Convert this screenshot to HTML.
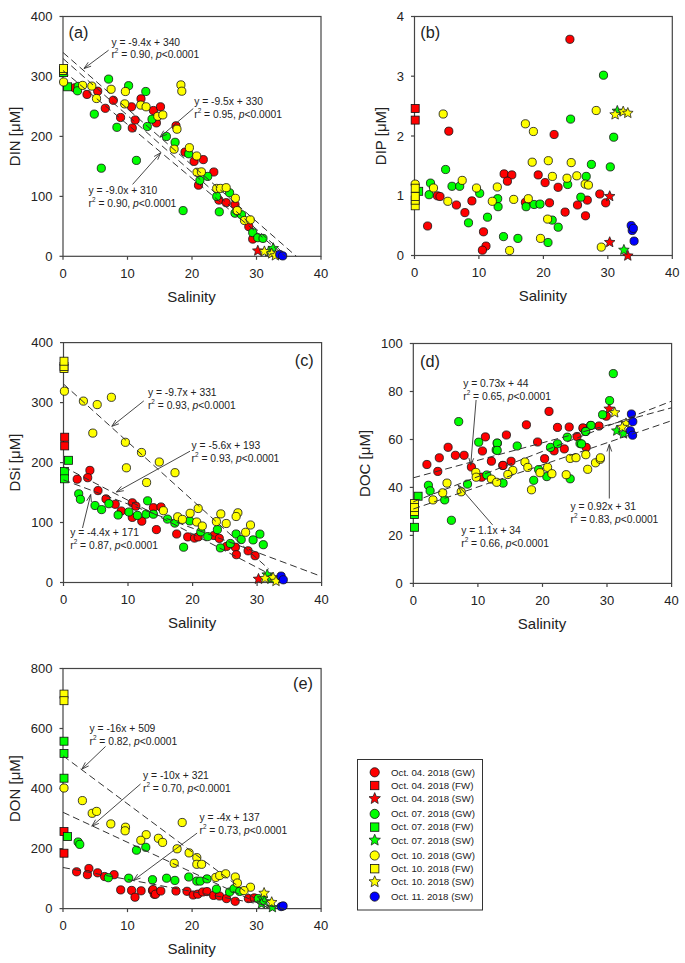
<!DOCTYPE html>
<html><head><meta charset="utf-8"><style>
html,body{margin:0;padding:0;background:#fff;}
svg{display:block;}
text{font-family:"Liberation Sans", sans-serif;fill:#222;}
</style></head><body>
<svg width="685" height="963" viewBox="0 0 685 963">
<rect width="685" height="963" fill="#fff"/>
<rect x="63.0" y="16.5" width="258.0" height="239.8" fill="none" stroke="#454545" stroke-width="1.2"/>
<line x1="59.5" y1="256.3" x2="63.0" y2="256.3" stroke="#454545" stroke-width="1.2"/>
<text x="52.5" y="260.9" font-size="13" text-anchor="end" >0</text>
<line x1="59.5" y1="196.4" x2="63.0" y2="196.4" stroke="#454545" stroke-width="1.2"/>
<text x="52.5" y="201.0" font-size="13" text-anchor="end" >100</text>
<line x1="59.5" y1="136.4" x2="63.0" y2="136.4" stroke="#454545" stroke-width="1.2"/>
<text x="52.5" y="141.0" font-size="13" text-anchor="end" >200</text>
<line x1="59.5" y1="76.5" x2="63.0" y2="76.5" stroke="#454545" stroke-width="1.2"/>
<text x="52.5" y="81.1" font-size="13" text-anchor="end" >300</text>
<line x1="59.5" y1="16.5" x2="63.0" y2="16.5" stroke="#454545" stroke-width="1.2"/>
<text x="52.5" y="21.1" font-size="13" text-anchor="end" >400</text>
<line x1="63.0" y1="256.3" x2="63.0" y2="259.8" stroke="#454545" stroke-width="1.2"/>
<text x="63.0" y="277.6" font-size="13" text-anchor="middle" >0</text>
<line x1="127.5" y1="256.3" x2="127.5" y2="259.8" stroke="#454545" stroke-width="1.2"/>
<text x="127.5" y="277.6" font-size="13" text-anchor="middle" >10</text>
<line x1="192.0" y1="256.3" x2="192.0" y2="259.8" stroke="#454545" stroke-width="1.2"/>
<text x="192.0" y="277.6" font-size="13" text-anchor="middle" >20</text>
<line x1="256.5" y1="256.3" x2="256.5" y2="259.8" stroke="#454545" stroke-width="1.2"/>
<text x="256.5" y="277.6" font-size="13" text-anchor="middle" >30</text>
<line x1="321.0" y1="256.3" x2="321.0" y2="259.8" stroke="#454545" stroke-width="1.2"/>
<text x="321.0" y="277.6" font-size="13" text-anchor="middle" >40</text>
<text x="191.5" y="301.9" font-size="15" text-anchor="middle" >Salinity</text>
<text x="0" y="0" font-size="15" text-anchor="middle" transform="translate(19.8,136.4) rotate(-90)">DIN [&#956;M]</text>
<rect x="414.5" y="16.5" width="257.8" height="239.0" fill="none" stroke="#454545" stroke-width="1.2"/>
<line x1="411.0" y1="255.5" x2="414.5" y2="255.5" stroke="#454545" stroke-width="1.2"/>
<text x="404.0" y="260.1" font-size="13" text-anchor="end" >0</text>
<line x1="411.0" y1="195.8" x2="414.5" y2="195.8" stroke="#454545" stroke-width="1.2"/>
<text x="404.0" y="200.3" font-size="13" text-anchor="end" >1</text>
<line x1="411.0" y1="136.0" x2="414.5" y2="136.0" stroke="#454545" stroke-width="1.2"/>
<text x="404.0" y="140.6" font-size="13" text-anchor="end" >2</text>
<line x1="411.0" y1="76.2" x2="414.5" y2="76.2" stroke="#454545" stroke-width="1.2"/>
<text x="404.0" y="80.8" font-size="13" text-anchor="end" >3</text>
<line x1="411.0" y1="16.5" x2="414.5" y2="16.5" stroke="#454545" stroke-width="1.2"/>
<text x="404.0" y="21.1" font-size="13" text-anchor="end" >4</text>
<line x1="414.5" y1="255.5" x2="414.5" y2="259.0" stroke="#454545" stroke-width="1.2"/>
<text x="414.5" y="276.8" font-size="13" text-anchor="middle" >0</text>
<line x1="478.9" y1="255.5" x2="478.9" y2="259.0" stroke="#454545" stroke-width="1.2"/>
<text x="478.9" y="276.8" font-size="13" text-anchor="middle" >10</text>
<line x1="543.4" y1="255.5" x2="543.4" y2="259.0" stroke="#454545" stroke-width="1.2"/>
<text x="543.4" y="276.8" font-size="13" text-anchor="middle" >20</text>
<line x1="607.8" y1="255.5" x2="607.8" y2="259.0" stroke="#454545" stroke-width="1.2"/>
<text x="607.8" y="276.8" font-size="13" text-anchor="middle" >30</text>
<line x1="672.3" y1="255.5" x2="672.3" y2="259.0" stroke="#454545" stroke-width="1.2"/>
<text x="672.3" y="276.8" font-size="13" text-anchor="middle" >40</text>
<text x="542.9" y="301.1" font-size="15" text-anchor="middle" >Salinity</text>
<text x="0" y="0" font-size="15" text-anchor="middle" transform="translate(386.0,136.0) rotate(-90)">DIP [&#956;M]</text>
<rect x="63.5" y="342.6" width="258.1" height="239.9" fill="none" stroke="#454545" stroke-width="1.2"/>
<line x1="60.0" y1="582.5" x2="63.5" y2="582.5" stroke="#454545" stroke-width="1.2"/>
<text x="53.0" y="587.1" font-size="13" text-anchor="end" >0</text>
<line x1="60.0" y1="522.5" x2="63.5" y2="522.5" stroke="#454545" stroke-width="1.2"/>
<text x="53.0" y="527.1" font-size="13" text-anchor="end" >100</text>
<line x1="60.0" y1="462.6" x2="63.5" y2="462.6" stroke="#454545" stroke-width="1.2"/>
<text x="53.0" y="467.2" font-size="13" text-anchor="end" >200</text>
<line x1="60.0" y1="402.6" x2="63.5" y2="402.6" stroke="#454545" stroke-width="1.2"/>
<text x="53.0" y="407.2" font-size="13" text-anchor="end" >300</text>
<line x1="60.0" y1="342.6" x2="63.5" y2="342.6" stroke="#454545" stroke-width="1.2"/>
<text x="53.0" y="347.2" font-size="13" text-anchor="end" >400</text>
<line x1="63.5" y1="582.5" x2="63.5" y2="586.0" stroke="#454545" stroke-width="1.2"/>
<text x="63.5" y="603.8" font-size="13" text-anchor="middle" >0</text>
<line x1="128.0" y1="582.5" x2="128.0" y2="586.0" stroke="#454545" stroke-width="1.2"/>
<text x="128.0" y="603.8" font-size="13" text-anchor="middle" >10</text>
<line x1="192.6" y1="582.5" x2="192.6" y2="586.0" stroke="#454545" stroke-width="1.2"/>
<text x="192.6" y="603.8" font-size="13" text-anchor="middle" >20</text>
<line x1="257.1" y1="582.5" x2="257.1" y2="586.0" stroke="#454545" stroke-width="1.2"/>
<text x="257.1" y="603.8" font-size="13" text-anchor="middle" >30</text>
<line x1="321.6" y1="582.5" x2="321.6" y2="586.0" stroke="#454545" stroke-width="1.2"/>
<text x="321.6" y="603.8" font-size="13" text-anchor="middle" >40</text>
<text x="192.1" y="628.1" font-size="15" text-anchor="middle" >Salinity</text>
<text x="0" y="0" font-size="15" text-anchor="middle" transform="translate(19.8,462.6) rotate(-90)">DSi [&#956;M]</text>
<rect x="413.3" y="343.5" width="258.3" height="239.9" fill="none" stroke="#454545" stroke-width="1.2"/>
<line x1="409.8" y1="583.4" x2="413.3" y2="583.4" stroke="#454545" stroke-width="1.2"/>
<text x="402.8" y="588.0" font-size="13" text-anchor="end" >0</text>
<line x1="409.8" y1="535.4" x2="413.3" y2="535.4" stroke="#454545" stroke-width="1.2"/>
<text x="402.8" y="540.0" font-size="13" text-anchor="end" >20</text>
<line x1="409.8" y1="487.4" x2="413.3" y2="487.4" stroke="#454545" stroke-width="1.2"/>
<text x="402.8" y="492.0" font-size="13" text-anchor="end" >40</text>
<line x1="409.8" y1="439.5" x2="413.3" y2="439.5" stroke="#454545" stroke-width="1.2"/>
<text x="402.8" y="444.1" font-size="13" text-anchor="end" >60</text>
<line x1="409.8" y1="391.5" x2="413.3" y2="391.5" stroke="#454545" stroke-width="1.2"/>
<text x="402.8" y="396.1" font-size="13" text-anchor="end" >80</text>
<line x1="409.8" y1="343.5" x2="413.3" y2="343.5" stroke="#454545" stroke-width="1.2"/>
<text x="402.8" y="348.1" font-size="13" text-anchor="end" >100</text>
<line x1="413.3" y1="583.4" x2="413.3" y2="586.9" stroke="#454545" stroke-width="1.2"/>
<text x="413.3" y="604.7" font-size="13" text-anchor="middle" >0</text>
<line x1="477.9" y1="583.4" x2="477.9" y2="586.9" stroke="#454545" stroke-width="1.2"/>
<text x="477.9" y="604.7" font-size="13" text-anchor="middle" >10</text>
<line x1="542.5" y1="583.4" x2="542.5" y2="586.9" stroke="#454545" stroke-width="1.2"/>
<text x="542.5" y="604.7" font-size="13" text-anchor="middle" >20</text>
<line x1="607.0" y1="583.4" x2="607.0" y2="586.9" stroke="#454545" stroke-width="1.2"/>
<text x="607.0" y="604.7" font-size="13" text-anchor="middle" >30</text>
<line x1="671.6" y1="583.4" x2="671.6" y2="586.9" stroke="#454545" stroke-width="1.2"/>
<text x="671.6" y="604.7" font-size="13" text-anchor="middle" >40</text>
<text x="542.0" y="629.0" font-size="15" text-anchor="middle" >Salinity</text>
<text x="0" y="0" font-size="15" text-anchor="middle" transform="translate(370.3,463.4) rotate(-90)">DOC [&#956;M]</text>
<rect x="63.0" y="668.5" width="258.1" height="240.1" fill="none" stroke="#454545" stroke-width="1.2"/>
<line x1="59.5" y1="908.6" x2="63.0" y2="908.6" stroke="#454545" stroke-width="1.2"/>
<text x="52.5" y="913.2" font-size="13" text-anchor="end" >0</text>
<line x1="59.5" y1="848.6" x2="63.0" y2="848.6" stroke="#454545" stroke-width="1.2"/>
<text x="52.5" y="853.2" font-size="13" text-anchor="end" >200</text>
<line x1="59.5" y1="788.5" x2="63.0" y2="788.5" stroke="#454545" stroke-width="1.2"/>
<text x="52.5" y="793.1" font-size="13" text-anchor="end" >400</text>
<line x1="59.5" y1="728.5" x2="63.0" y2="728.5" stroke="#454545" stroke-width="1.2"/>
<text x="52.5" y="733.1" font-size="13" text-anchor="end" >600</text>
<line x1="59.5" y1="668.5" x2="63.0" y2="668.5" stroke="#454545" stroke-width="1.2"/>
<text x="52.5" y="673.1" font-size="13" text-anchor="end" >800</text>
<line x1="63.0" y1="908.6" x2="63.0" y2="912.1" stroke="#454545" stroke-width="1.2"/>
<text x="63.0" y="929.9" font-size="13" text-anchor="middle" >0</text>
<line x1="127.5" y1="908.6" x2="127.5" y2="912.1" stroke="#454545" stroke-width="1.2"/>
<text x="127.5" y="929.9" font-size="13" text-anchor="middle" >10</text>
<line x1="192.1" y1="908.6" x2="192.1" y2="912.1" stroke="#454545" stroke-width="1.2"/>
<text x="192.1" y="929.9" font-size="13" text-anchor="middle" >20</text>
<line x1="256.6" y1="908.6" x2="256.6" y2="912.1" stroke="#454545" stroke-width="1.2"/>
<text x="256.6" y="929.9" font-size="13" text-anchor="middle" >30</text>
<line x1="321.1" y1="908.6" x2="321.1" y2="912.1" stroke="#454545" stroke-width="1.2"/>
<text x="321.1" y="929.9" font-size="13" text-anchor="middle" >40</text>
<text x="191.6" y="954.2" font-size="15" text-anchor="middle" >Salinity</text>
<text x="0" y="0" font-size="15" text-anchor="middle" transform="translate(19.8,788.5) rotate(-90)">DON [&#956;M]</text>
<circle cx="74.6" cy="87.8" r="4.1" fill="#ff0000" stroke="#111" stroke-width="0.8"/>
<circle cx="87.0" cy="94.4" r="4.1" fill="#ff0000" stroke="#111" stroke-width="0.8"/>
<circle cx="97.7" cy="91.2" r="4.1" fill="#ff0000" stroke="#111" stroke-width="0.8"/>
<circle cx="105.3" cy="108.3" r="4.1" fill="#ff0000" stroke="#111" stroke-width="0.8"/>
<circle cx="113.3" cy="100.3" r="4.1" fill="#ff0000" stroke="#111" stroke-width="0.8"/>
<circle cx="131.5" cy="106.8" r="4.1" fill="#ff0000" stroke="#111" stroke-width="0.8"/>
<circle cx="120.6" cy="117.5" r="4.1" fill="#ff0000" stroke="#111" stroke-width="0.8"/>
<circle cx="135.2" cy="120.0" r="4.1" fill="#ff0000" stroke="#111" stroke-width="0.8"/>
<circle cx="132.3" cy="128.0" r="4.1" fill="#ff0000" stroke="#111" stroke-width="0.8"/>
<circle cx="141.0" cy="98.8" r="4.1" fill="#ff0000" stroke="#111" stroke-width="0.8"/>
<circle cx="153.4" cy="110.5" r="4.1" fill="#ff0000" stroke="#111" stroke-width="0.8"/>
<circle cx="160.5" cy="106.8" r="4.1" fill="#ff0000" stroke="#111" stroke-width="0.8"/>
<circle cx="156.4" cy="122.9" r="4.1" fill="#ff0000" stroke="#111" stroke-width="0.8"/>
<circle cx="176.0" cy="125.8" r="4.1" fill="#ff0000" stroke="#111" stroke-width="0.8"/>
<circle cx="185.0" cy="152.1" r="4.1" fill="#ff0000" stroke="#111" stroke-width="0.8"/>
<circle cx="203.3" cy="159.6" r="4.1" fill="#ff0000" stroke="#111" stroke-width="0.8"/>
<circle cx="194.1" cy="161.4" r="4.1" fill="#ff0000" stroke="#111" stroke-width="0.8"/>
<circle cx="213.8" cy="172.0" r="4.1" fill="#ff0000" stroke="#111" stroke-width="0.8"/>
<circle cx="198.5" cy="185.2" r="4.1" fill="#ff0000" stroke="#111" stroke-width="0.8"/>
<circle cx="218.9" cy="200.1" r="4.1" fill="#ff0000" stroke="#111" stroke-width="0.8"/>
<circle cx="226.2" cy="202.7" r="4.1" fill="#ff0000" stroke="#111" stroke-width="0.8"/>
<circle cx="235.0" cy="204.5" r="4.1" fill="#ff0000" stroke="#111" stroke-width="0.8"/>
<circle cx="248.8" cy="226.6" r="4.1" fill="#ff0000" stroke="#111" stroke-width="0.8"/>
<circle cx="252.7" cy="239.1" r="4.1" fill="#ff0000" stroke="#111" stroke-width="0.8"/>
<circle cx="448.8" cy="131.2" r="4.1" fill="#ff0000" stroke="#111" stroke-width="0.8"/>
<circle cx="437.4" cy="195.8" r="4.1" fill="#ff0000" stroke="#111" stroke-width="0.8"/>
<circle cx="440.0" cy="196.5" r="4.1" fill="#ff0000" stroke="#111" stroke-width="0.8"/>
<circle cx="456.4" cy="205.0" r="4.1" fill="#ff0000" stroke="#111" stroke-width="0.8"/>
<circle cx="464.9" cy="212.6" r="4.1" fill="#ff0000" stroke="#111" stroke-width="0.8"/>
<circle cx="427.6" cy="226.0" r="4.1" fill="#ff0000" stroke="#111" stroke-width="0.8"/>
<circle cx="471.9" cy="200.9" r="4.1" fill="#ff0000" stroke="#111" stroke-width="0.8"/>
<circle cx="483.5" cy="231.8" r="4.1" fill="#ff0000" stroke="#111" stroke-width="0.8"/>
<circle cx="486.0" cy="246.1" r="4.1" fill="#ff0000" stroke="#111" stroke-width="0.8"/>
<circle cx="482.4" cy="250.2" r="4.1" fill="#ff0000" stroke="#111" stroke-width="0.8"/>
<circle cx="504.1" cy="173.9" r="4.1" fill="#ff0000" stroke="#111" stroke-width="0.8"/>
<circle cx="511.8" cy="174.9" r="4.1" fill="#ff0000" stroke="#111" stroke-width="0.8"/>
<circle cx="507.4" cy="181.2" r="4.1" fill="#ff0000" stroke="#111" stroke-width="0.8"/>
<circle cx="538.2" cy="174.9" r="4.1" fill="#ff0000" stroke="#111" stroke-width="0.8"/>
<circle cx="545.1" cy="182.6" r="4.1" fill="#ff0000" stroke="#111" stroke-width="0.8"/>
<circle cx="558.1" cy="187.3" r="4.1" fill="#ff0000" stroke="#111" stroke-width="0.8"/>
<circle cx="525.4" cy="202.3" r="4.1" fill="#ff0000" stroke="#111" stroke-width="0.8"/>
<circle cx="549.5" cy="202.8" r="4.1" fill="#ff0000" stroke="#111" stroke-width="0.8"/>
<circle cx="587.3" cy="200.1" r="4.1" fill="#ff0000" stroke="#111" stroke-width="0.8"/>
<circle cx="577.5" cy="205.0" r="4.1" fill="#ff0000" stroke="#111" stroke-width="0.8"/>
<circle cx="565.1" cy="212.1" r="4.1" fill="#ff0000" stroke="#111" stroke-width="0.8"/>
<circle cx="585.5" cy="215.8" r="4.1" fill="#ff0000" stroke="#111" stroke-width="0.8"/>
<circle cx="554.1" cy="134.5" r="4.1" fill="#ff0000" stroke="#111" stroke-width="0.8"/>
<circle cx="599.8" cy="194.0" r="4.1" fill="#ff0000" stroke="#111" stroke-width="0.8"/>
<circle cx="605.7" cy="202.8" r="4.1" fill="#ff0000" stroke="#111" stroke-width="0.8"/>
<circle cx="569.9" cy="39.3" r="4.1" fill="#ff0000" stroke="#111" stroke-width="0.8"/>
<circle cx="89.9" cy="470.4" r="4.1" fill="#ff0000" stroke="#111" stroke-width="0.8"/>
<circle cx="87.7" cy="477.7" r="4.1" fill="#ff0000" stroke="#111" stroke-width="0.8"/>
<circle cx="77.2" cy="479.2" r="4.1" fill="#ff0000" stroke="#111" stroke-width="0.8"/>
<circle cx="98.0" cy="490.6" r="4.1" fill="#ff0000" stroke="#111" stroke-width="0.8"/>
<circle cx="106.0" cy="498.9" r="4.1" fill="#ff0000" stroke="#111" stroke-width="0.8"/>
<circle cx="115.2" cy="504.3" r="4.1" fill="#ff0000" stroke="#111" stroke-width="0.8"/>
<circle cx="121.3" cy="511.0" r="4.1" fill="#ff0000" stroke="#111" stroke-width="0.8"/>
<circle cx="132.3" cy="502.8" r="4.1" fill="#ff0000" stroke="#111" stroke-width="0.8"/>
<circle cx="135.9" cy="506.2" r="4.1" fill="#ff0000" stroke="#111" stroke-width="0.8"/>
<circle cx="132.3" cy="517.4" r="4.1" fill="#ff0000" stroke="#111" stroke-width="0.8"/>
<circle cx="141.8" cy="521.2" r="4.1" fill="#ff0000" stroke="#111" stroke-width="0.8"/>
<circle cx="153.4" cy="507.7" r="4.1" fill="#ff0000" stroke="#111" stroke-width="0.8"/>
<circle cx="161.0" cy="507.0" r="4.1" fill="#ff0000" stroke="#111" stroke-width="0.8"/>
<circle cx="156.4" cy="529.6" r="4.1" fill="#ff0000" stroke="#111" stroke-width="0.8"/>
<circle cx="176.7" cy="534.0" r="4.1" fill="#ff0000" stroke="#111" stroke-width="0.8"/>
<circle cx="187.7" cy="536.9" r="4.1" fill="#ff0000" stroke="#111" stroke-width="0.8"/>
<circle cx="194.5" cy="538.1" r="4.1" fill="#ff0000" stroke="#111" stroke-width="0.8"/>
<circle cx="198.2" cy="536.9" r="4.1" fill="#ff0000" stroke="#111" stroke-width="0.8"/>
<circle cx="213.9" cy="535.5" r="4.1" fill="#ff0000" stroke="#111" stroke-width="0.8"/>
<circle cx="219.3" cy="538.4" r="4.1" fill="#ff0000" stroke="#111" stroke-width="0.8"/>
<circle cx="226.6" cy="546.4" r="4.1" fill="#ff0000" stroke="#111" stroke-width="0.8"/>
<circle cx="235.4" cy="547.2" r="4.1" fill="#ff0000" stroke="#111" stroke-width="0.8"/>
<circle cx="236.4" cy="554.7" r="4.1" fill="#ff0000" stroke="#111" stroke-width="0.8"/>
<circle cx="248.1" cy="550.8" r="4.1" fill="#ff0000" stroke="#111" stroke-width="0.8"/>
<circle cx="255.1" cy="555.7" r="4.1" fill="#ff0000" stroke="#111" stroke-width="0.8"/>
<circle cx="426.9" cy="464.5" r="4.1" fill="#ff0000" stroke="#111" stroke-width="0.8"/>
<circle cx="439.3" cy="457.8" r="4.1" fill="#ff0000" stroke="#111" stroke-width="0.8"/>
<circle cx="448.1" cy="447.3" r="4.1" fill="#ff0000" stroke="#111" stroke-width="0.8"/>
<circle cx="455.4" cy="455.3" r="4.1" fill="#ff0000" stroke="#111" stroke-width="0.8"/>
<circle cx="464.1" cy="455.3" r="4.1" fill="#ff0000" stroke="#111" stroke-width="0.8"/>
<circle cx="437.8" cy="471.4" r="4.1" fill="#ff0000" stroke="#111" stroke-width="0.8"/>
<circle cx="471.4" cy="467.0" r="4.1" fill="#ff0000" stroke="#111" stroke-width="0.8"/>
<circle cx="482.4" cy="451.0" r="4.1" fill="#ff0000" stroke="#111" stroke-width="0.8"/>
<circle cx="485.4" cy="436.9" r="4.1" fill="#ff0000" stroke="#111" stroke-width="0.8"/>
<circle cx="491.4" cy="461.2" r="4.1" fill="#ff0000" stroke="#111" stroke-width="0.8"/>
<circle cx="502.8" cy="465.5" r="4.1" fill="#ff0000" stroke="#111" stroke-width="0.8"/>
<circle cx="481.6" cy="477.2" r="4.1" fill="#ff0000" stroke="#111" stroke-width="0.8"/>
<circle cx="549.0" cy="411.4" r="4.1" fill="#ff0000" stroke="#111" stroke-width="0.8"/>
<circle cx="526.4" cy="424.8" r="4.1" fill="#ff0000" stroke="#111" stroke-width="0.8"/>
<circle cx="557.5" cy="427.4" r="4.1" fill="#ff0000" stroke="#111" stroke-width="0.8"/>
<circle cx="569.2" cy="427.0" r="4.1" fill="#ff0000" stroke="#111" stroke-width="0.8"/>
<circle cx="583.3" cy="428.5" r="4.1" fill="#ff0000" stroke="#111" stroke-width="0.8"/>
<circle cx="506.4" cy="435.0" r="4.1" fill="#ff0000" stroke="#111" stroke-width="0.8"/>
<circle cx="577.0" cy="436.5" r="4.1" fill="#ff0000" stroke="#111" stroke-width="0.8"/>
<circle cx="537.6" cy="442.0" r="4.1" fill="#ff0000" stroke="#111" stroke-width="0.8"/>
<circle cx="554.1" cy="450.8" r="4.1" fill="#ff0000" stroke="#111" stroke-width="0.8"/>
<circle cx="564.3" cy="448.9" r="4.1" fill="#ff0000" stroke="#111" stroke-width="0.8"/>
<circle cx="586.2" cy="447.4" r="4.1" fill="#ff0000" stroke="#111" stroke-width="0.8"/>
<circle cx="511.1" cy="461.3" r="4.1" fill="#ff0000" stroke="#111" stroke-width="0.8"/>
<circle cx="503.0" cy="465.4" r="4.1" fill="#ff0000" stroke="#111" stroke-width="0.8"/>
<circle cx="544.6" cy="458.7" r="4.1" fill="#ff0000" stroke="#111" stroke-width="0.8"/>
<circle cx="606.3" cy="416.2" r="4.1" fill="#ff0000" stroke="#111" stroke-width="0.8"/>
<circle cx="599.0" cy="426.0" r="4.1" fill="#ff0000" stroke="#111" stroke-width="0.8"/>
<circle cx="582.9" cy="427.9" r="4.1" fill="#ff0000" stroke="#111" stroke-width="0.8"/>
<circle cx="76.6" cy="871.8" r="4.1" fill="#ff0000" stroke="#111" stroke-width="0.8"/>
<circle cx="88.9" cy="868.5" r="4.1" fill="#ff0000" stroke="#111" stroke-width="0.8"/>
<circle cx="87.4" cy="874.7" r="4.1" fill="#ff0000" stroke="#111" stroke-width="0.8"/>
<circle cx="97.6" cy="872.8" r="4.1" fill="#ff0000" stroke="#111" stroke-width="0.8"/>
<circle cx="104.6" cy="876.5" r="4.1" fill="#ff0000" stroke="#111" stroke-width="0.8"/>
<circle cx="114.1" cy="874.7" r="4.1" fill="#ff0000" stroke="#111" stroke-width="0.8"/>
<circle cx="120.7" cy="889.9" r="4.1" fill="#ff0000" stroke="#111" stroke-width="0.8"/>
<circle cx="131.6" cy="890.4" r="4.1" fill="#ff0000" stroke="#111" stroke-width="0.8"/>
<circle cx="141.1" cy="890.8" r="4.1" fill="#ff0000" stroke="#111" stroke-width="0.8"/>
<circle cx="135.0" cy="897.2" r="4.1" fill="#ff0000" stroke="#111" stroke-width="0.8"/>
<circle cx="152.5" cy="890.4" r="4.1" fill="#ff0000" stroke="#111" stroke-width="0.8"/>
<circle cx="154.3" cy="894.3" r="4.1" fill="#ff0000" stroke="#111" stroke-width="0.8"/>
<circle cx="153.0" cy="889.6" r="4.1" fill="#ff0000" stroke="#111" stroke-width="0.8"/>
<circle cx="155.5" cy="894.2" r="4.1" fill="#ff0000" stroke="#111" stroke-width="0.8"/>
<circle cx="160.8" cy="891.0" r="4.1" fill="#ff0000" stroke="#111" stroke-width="0.8"/>
<circle cx="176.0" cy="891.0" r="4.1" fill="#ff0000" stroke="#111" stroke-width="0.8"/>
<circle cx="187.0" cy="891.3" r="4.1" fill="#ff0000" stroke="#111" stroke-width="0.8"/>
<circle cx="193.2" cy="895.0" r="4.1" fill="#ff0000" stroke="#111" stroke-width="0.8"/>
<circle cx="197.8" cy="894.2" r="4.1" fill="#ff0000" stroke="#111" stroke-width="0.8"/>
<circle cx="202.7" cy="892.0" r="4.1" fill="#ff0000" stroke="#111" stroke-width="0.8"/>
<circle cx="207.0" cy="891.6" r="4.1" fill="#ff0000" stroke="#111" stroke-width="0.8"/>
<circle cx="213.6" cy="895.4" r="4.1" fill="#ff0000" stroke="#111" stroke-width="0.8"/>
<circle cx="219.5" cy="896.0" r="4.1" fill="#ff0000" stroke="#111" stroke-width="0.8"/>
<circle cx="226.5" cy="898.6" r="4.1" fill="#ff0000" stroke="#111" stroke-width="0.8"/>
<circle cx="235.2" cy="901.3" r="4.1" fill="#ff0000" stroke="#111" stroke-width="0.8"/>
<circle cx="248.4" cy="898.6" r="4.1" fill="#ff0000" stroke="#111" stroke-width="0.8"/>
<circle cx="254.2" cy="897.9" r="4.1" fill="#ff0000" stroke="#111" stroke-width="0.8"/>
<rect x="411.2" y="104.5" width="8.0" height="8.0" fill="#ff0000" stroke="#111" stroke-width="0.8"/>
<rect x="411.2" y="116.1" width="8.0" height="8.0" fill="#ff0000" stroke="#111" stroke-width="0.8"/>
<rect x="60.7" y="433.2" width="8.0" height="8.0" fill="#ff0000" stroke="#111" stroke-width="0.8"/>
<rect x="60.7" y="441.9" width="8.0" height="8.0" fill="#ff0000" stroke="#111" stroke-width="0.8"/>
<rect x="60.0" y="827.5" width="8.0" height="8.0" fill="#ff0000" stroke="#111" stroke-width="0.8"/>
<rect x="60.0" y="849.2" width="8.0" height="8.0" fill="#ff0000" stroke="#111" stroke-width="0.8"/>
<polygon points="257.8,245.2 259.3,248.8 263.1,249.1 260.2,251.6 261.1,255.3 257.8,253.3 254.5,255.3 255.4,251.6 252.5,249.1 256.3,248.8" fill="#ff0000" stroke="#222" stroke-width="0.8"/>
<polygon points="609.7,190.7 611.2,194.3 615.0,194.6 612.1,197.1 613.0,200.8 609.7,198.8 606.4,200.8 607.3,197.1 604.4,194.6 608.2,194.3" fill="#ff0000" stroke="#222" stroke-width="0.8"/>
<polygon points="609.7,236.7 611.2,240.3 615.0,240.6 612.1,243.1 613.0,246.8 609.7,244.8 606.4,246.8 607.3,243.1 604.4,240.6 608.2,240.3" fill="#ff0000" stroke="#222" stroke-width="0.8"/>
<polygon points="627.8,250.2 629.3,253.8 633.1,254.1 630.2,256.6 631.1,260.3 627.8,258.3 624.5,260.3 625.4,256.6 622.5,254.1 626.3,253.8" fill="#ff0000" stroke="#222" stroke-width="0.8"/>
<polygon points="258.5,573.4 260.0,577.0 263.8,577.3 260.9,579.8 261.8,583.5 258.5,581.5 255.2,583.5 256.1,579.8 253.2,577.3 257.0,577.0" fill="#ff0000" stroke="#222" stroke-width="0.8"/>
<polygon points="609.2,403.3 610.7,406.9 614.5,407.2 611.6,409.7 612.5,413.4 609.2,411.4 605.9,413.4 606.8,409.7 603.9,407.2 607.7,406.9" fill="#ff0000" stroke="#222" stroke-width="0.8"/>
<circle cx="78.2" cy="86.4" r="4.1" fill="#00ff00" stroke="#111" stroke-width="0.8"/>
<circle cx="77.5" cy="90.8" r="4.1" fill="#00ff00" stroke="#111" stroke-width="0.8"/>
<circle cx="94.3" cy="114.1" r="4.1" fill="#00ff00" stroke="#111" stroke-width="0.8"/>
<circle cx="108.6" cy="79.1" r="4.1" fill="#00ff00" stroke="#111" stroke-width="0.8"/>
<circle cx="128.6" cy="85.7" r="4.1" fill="#00ff00" stroke="#111" stroke-width="0.8"/>
<circle cx="116.9" cy="127.3" r="4.1" fill="#00ff00" stroke="#111" stroke-width="0.8"/>
<circle cx="145.8" cy="91.5" r="4.1" fill="#00ff00" stroke="#111" stroke-width="0.8"/>
<circle cx="152.0" cy="119.2" r="4.1" fill="#00ff00" stroke="#111" stroke-width="0.8"/>
<circle cx="147.3" cy="126.5" r="4.1" fill="#00ff00" stroke="#111" stroke-width="0.8"/>
<circle cx="166.4" cy="136.5" r="4.1" fill="#00ff00" stroke="#111" stroke-width="0.8"/>
<circle cx="175.1" cy="142.3" r="4.1" fill="#00ff00" stroke="#111" stroke-width="0.8"/>
<circle cx="188.7" cy="153.8" r="4.1" fill="#00ff00" stroke="#111" stroke-width="0.8"/>
<circle cx="207.7" cy="176.4" r="4.1" fill="#00ff00" stroke="#111" stroke-width="0.8"/>
<circle cx="199.9" cy="180.4" r="4.1" fill="#00ff00" stroke="#111" stroke-width="0.8"/>
<circle cx="229.6" cy="192.8" r="4.1" fill="#00ff00" stroke="#111" stroke-width="0.8"/>
<circle cx="216.7" cy="196.4" r="4.1" fill="#00ff00" stroke="#111" stroke-width="0.8"/>
<circle cx="183.1" cy="210.6" r="4.1" fill="#00ff00" stroke="#111" stroke-width="0.8"/>
<circle cx="219.3" cy="211.8" r="4.1" fill="#00ff00" stroke="#111" stroke-width="0.8"/>
<circle cx="235.0" cy="213.2" r="4.1" fill="#00ff00" stroke="#111" stroke-width="0.8"/>
<circle cx="241.5" cy="214.7" r="4.1" fill="#00ff00" stroke="#111" stroke-width="0.8"/>
<circle cx="252.7" cy="232.6" r="4.1" fill="#00ff00" stroke="#111" stroke-width="0.8"/>
<circle cx="257.8" cy="237.7" r="4.1" fill="#00ff00" stroke="#111" stroke-width="0.8"/>
<circle cx="263.0" cy="238.4" r="4.1" fill="#00ff00" stroke="#111" stroke-width="0.8"/>
<circle cx="101.3" cy="168.2" r="4.1" fill="#00ff00" stroke="#111" stroke-width="0.8"/>
<circle cx="136.4" cy="160.4" r="4.1" fill="#00ff00" stroke="#111" stroke-width="0.8"/>
<circle cx="445.6" cy="169.5" r="4.1" fill="#00ff00" stroke="#111" stroke-width="0.8"/>
<circle cx="430.5" cy="183.1" r="4.1" fill="#00ff00" stroke="#111" stroke-width="0.8"/>
<circle cx="429.1" cy="194.7" r="4.1" fill="#00ff00" stroke="#111" stroke-width="0.8"/>
<circle cx="452.0" cy="186.3" r="4.1" fill="#00ff00" stroke="#111" stroke-width="0.8"/>
<circle cx="459.7" cy="186.3" r="4.1" fill="#00ff00" stroke="#111" stroke-width="0.8"/>
<circle cx="468.5" cy="222.8" r="4.1" fill="#00ff00" stroke="#111" stroke-width="0.8"/>
<circle cx="479.7" cy="193.3" r="4.1" fill="#00ff00" stroke="#111" stroke-width="0.8"/>
<circle cx="487.5" cy="217.2" r="4.1" fill="#00ff00" stroke="#111" stroke-width="0.8"/>
<circle cx="497.7" cy="198.7" r="4.1" fill="#00ff00" stroke="#111" stroke-width="0.8"/>
<circle cx="498.1" cy="206.7" r="4.1" fill="#00ff00" stroke="#111" stroke-width="0.8"/>
<circle cx="503.5" cy="236.6" r="4.1" fill="#00ff00" stroke="#111" stroke-width="0.8"/>
<circle cx="591.4" cy="164.4" r="4.1" fill="#00ff00" stroke="#111" stroke-width="0.8"/>
<circle cx="567.7" cy="184.5" r="4.1" fill="#00ff00" stroke="#111" stroke-width="0.8"/>
<circle cx="586.2" cy="176.4" r="4.1" fill="#00ff00" stroke="#111" stroke-width="0.8"/>
<circle cx="526.1" cy="206.7" r="4.1" fill="#00ff00" stroke="#111" stroke-width="0.8"/>
<circle cx="534.1" cy="204.5" r="4.1" fill="#00ff00" stroke="#111" stroke-width="0.8"/>
<circle cx="540.0" cy="204.1" r="4.1" fill="#00ff00" stroke="#111" stroke-width="0.8"/>
<circle cx="580.8" cy="197.2" r="4.1" fill="#00ff00" stroke="#111" stroke-width="0.8"/>
<circle cx="552.2" cy="220.1" r="4.1" fill="#00ff00" stroke="#111" stroke-width="0.8"/>
<circle cx="558.2" cy="227.2" r="4.1" fill="#00ff00" stroke="#111" stroke-width="0.8"/>
<circle cx="517.9" cy="238.4" r="4.1" fill="#00ff00" stroke="#111" stroke-width="0.8"/>
<circle cx="548.0" cy="242.5" r="4.1" fill="#00ff00" stroke="#111" stroke-width="0.8"/>
<circle cx="570.6" cy="119.1" r="4.1" fill="#00ff00" stroke="#111" stroke-width="0.8"/>
<circle cx="603.5" cy="75.2" r="4.1" fill="#00ff00" stroke="#111" stroke-width="0.8"/>
<circle cx="613.7" cy="137.2" r="4.1" fill="#00ff00" stroke="#111" stroke-width="0.8"/>
<circle cx="610.3" cy="166.9" r="4.1" fill="#00ff00" stroke="#111" stroke-width="0.8"/>
<circle cx="78.7" cy="493.8" r="4.1" fill="#00ff00" stroke="#111" stroke-width="0.8"/>
<circle cx="80.4" cy="499.3" r="4.1" fill="#00ff00" stroke="#111" stroke-width="0.8"/>
<circle cx="95.0" cy="505.5" r="4.1" fill="#00ff00" stroke="#111" stroke-width="0.8"/>
<circle cx="101.6" cy="509.6" r="4.1" fill="#00ff00" stroke="#111" stroke-width="0.8"/>
<circle cx="108.9" cy="503.7" r="4.1" fill="#00ff00" stroke="#111" stroke-width="0.8"/>
<circle cx="118.1" cy="515.0" r="4.1" fill="#00ff00" stroke="#111" stroke-width="0.8"/>
<circle cx="128.9" cy="512.0" r="4.1" fill="#00ff00" stroke="#111" stroke-width="0.8"/>
<circle cx="137.4" cy="515.4" r="4.1" fill="#00ff00" stroke="#111" stroke-width="0.8"/>
<circle cx="147.6" cy="500.8" r="4.1" fill="#00ff00" stroke="#111" stroke-width="0.8"/>
<circle cx="146.1" cy="514.2" r="4.1" fill="#00ff00" stroke="#111" stroke-width="0.8"/>
<circle cx="153.4" cy="514.2" r="4.1" fill="#00ff00" stroke="#111" stroke-width="0.8"/>
<circle cx="167.5" cy="519.1" r="4.1" fill="#00ff00" stroke="#111" stroke-width="0.8"/>
<circle cx="174.8" cy="523.1" r="4.1" fill="#00ff00" stroke="#111" stroke-width="0.8"/>
<circle cx="189.7" cy="520.9" r="4.1" fill="#00ff00" stroke="#111" stroke-width="0.8"/>
<circle cx="200.8" cy="531.8" r="4.1" fill="#00ff00" stroke="#111" stroke-width="0.8"/>
<circle cx="207.7" cy="536.6" r="4.1" fill="#00ff00" stroke="#111" stroke-width="0.8"/>
<circle cx="183.6" cy="547.2" r="4.1" fill="#00ff00" stroke="#111" stroke-width="0.8"/>
<circle cx="217.4" cy="529.6" r="4.1" fill="#00ff00" stroke="#111" stroke-width="0.8"/>
<circle cx="236.1" cy="534.0" r="4.1" fill="#00ff00" stroke="#111" stroke-width="0.8"/>
<circle cx="241.2" cy="539.6" r="4.1" fill="#00ff00" stroke="#111" stroke-width="0.8"/>
<circle cx="220.4" cy="547.9" r="4.1" fill="#00ff00" stroke="#111" stroke-width="0.8"/>
<circle cx="230.3" cy="543.5" r="4.1" fill="#00ff00" stroke="#111" stroke-width="0.8"/>
<circle cx="259.9" cy="534.1" r="4.1" fill="#00ff00" stroke="#111" stroke-width="0.8"/>
<circle cx="253.1" cy="539.9" r="4.1" fill="#00ff00" stroke="#111" stroke-width="0.8"/>
<circle cx="263.3" cy="544.7" r="4.1" fill="#00ff00" stroke="#111" stroke-width="0.8"/>
<circle cx="458.7" cy="421.6" r="4.1" fill="#00ff00" stroke="#111" stroke-width="0.8"/>
<circle cx="478.7" cy="442.2" r="4.1" fill="#00ff00" stroke="#111" stroke-width="0.8"/>
<circle cx="497.3" cy="443.2" r="4.1" fill="#00ff00" stroke="#111" stroke-width="0.8"/>
<circle cx="496.2" cy="449.9" r="4.1" fill="#00ff00" stroke="#111" stroke-width="0.8"/>
<circle cx="486.8" cy="475.0" r="4.1" fill="#00ff00" stroke="#111" stroke-width="0.8"/>
<circle cx="503.1" cy="483.1" r="4.1" fill="#00ff00" stroke="#111" stroke-width="0.8"/>
<circle cx="428.4" cy="485.3" r="4.1" fill="#00ff00" stroke="#111" stroke-width="0.8"/>
<circle cx="430.1" cy="490.8" r="4.1" fill="#00ff00" stroke="#111" stroke-width="0.8"/>
<circle cx="467.5" cy="484.1" r="4.1" fill="#00ff00" stroke="#111" stroke-width="0.8"/>
<circle cx="444.7" cy="499.9" r="4.1" fill="#00ff00" stroke="#111" stroke-width="0.8"/>
<circle cx="451.4" cy="520.3" r="4.1" fill="#00ff00" stroke="#111" stroke-width="0.8"/>
<circle cx="590.6" cy="425.5" r="4.1" fill="#00ff00" stroke="#111" stroke-width="0.8"/>
<circle cx="585.5" cy="431.4" r="4.1" fill="#00ff00" stroke="#111" stroke-width="0.8"/>
<circle cx="567.3" cy="437.2" r="4.1" fill="#00ff00" stroke="#111" stroke-width="0.8"/>
<circle cx="497.2" cy="443.1" r="4.1" fill="#00ff00" stroke="#111" stroke-width="0.8"/>
<circle cx="497.2" cy="450.4" r="4.1" fill="#00ff00" stroke="#111" stroke-width="0.8"/>
<circle cx="517.2" cy="446.0" r="4.1" fill="#00ff00" stroke="#111" stroke-width="0.8"/>
<circle cx="550.5" cy="447.4" r="4.1" fill="#00ff00" stroke="#111" stroke-width="0.8"/>
<circle cx="557.5" cy="443.8" r="4.1" fill="#00ff00" stroke="#111" stroke-width="0.8"/>
<circle cx="580.0" cy="443.5" r="4.1" fill="#00ff00" stroke="#111" stroke-width="0.8"/>
<circle cx="546.8" cy="476.6" r="4.1" fill="#00ff00" stroke="#111" stroke-width="0.8"/>
<circle cx="538.6" cy="469.6" r="4.1" fill="#00ff00" stroke="#111" stroke-width="0.8"/>
<circle cx="570.2" cy="478.8" r="4.1" fill="#00ff00" stroke="#111" stroke-width="0.8"/>
<circle cx="533.7" cy="480.3" r="4.1" fill="#00ff00" stroke="#111" stroke-width="0.8"/>
<circle cx="613.3" cy="373.6" r="4.1" fill="#00ff00" stroke="#111" stroke-width="0.8"/>
<circle cx="609.6" cy="400.6" r="4.1" fill="#00ff00" stroke="#111" stroke-width="0.8"/>
<circle cx="602.6" cy="414.7" r="4.1" fill="#00ff00" stroke="#111" stroke-width="0.8"/>
<circle cx="591.0" cy="425.4" r="4.1" fill="#00ff00" stroke="#111" stroke-width="0.8"/>
<circle cx="585.8" cy="431.5" r="4.1" fill="#00ff00" stroke="#111" stroke-width="0.8"/>
<circle cx="581.5" cy="443.9" r="4.1" fill="#00ff00" stroke="#111" stroke-width="0.8"/>
<circle cx="145.8" cy="847.3" r="4.1" fill="#00ff00" stroke="#111" stroke-width="0.8"/>
<circle cx="136.5" cy="850.2" r="4.1" fill="#00ff00" stroke="#111" stroke-width="0.8"/>
<circle cx="78.1" cy="842.0" r="4.1" fill="#00ff00" stroke="#111" stroke-width="0.8"/>
<circle cx="79.8" cy="844.4" r="4.1" fill="#00ff00" stroke="#111" stroke-width="0.8"/>
<circle cx="108.3" cy="877.7" r="4.1" fill="#00ff00" stroke="#111" stroke-width="0.8"/>
<circle cx="128.7" cy="878.2" r="4.1" fill="#00ff00" stroke="#111" stroke-width="0.8"/>
<circle cx="152.5" cy="879.7" r="4.1" fill="#00ff00" stroke="#111" stroke-width="0.8"/>
<circle cx="166.6" cy="878.2" r="4.1" fill="#00ff00" stroke="#111" stroke-width="0.8"/>
<circle cx="174.9" cy="880.4" r="4.1" fill="#00ff00" stroke="#111" stroke-width="0.8"/>
<circle cx="188.8" cy="877.0" r="4.1" fill="#00ff00" stroke="#111" stroke-width="0.8"/>
<circle cx="196.8" cy="881.1" r="4.1" fill="#00ff00" stroke="#111" stroke-width="0.8"/>
<circle cx="200.2" cy="881.1" r="4.1" fill="#00ff00" stroke="#111" stroke-width="0.8"/>
<circle cx="207.0" cy="878.9" r="4.1" fill="#00ff00" stroke="#111" stroke-width="0.8"/>
<circle cx="216.5" cy="889.1" r="4.1" fill="#00ff00" stroke="#111" stroke-width="0.8"/>
<circle cx="229.6" cy="892.0" r="4.1" fill="#00ff00" stroke="#111" stroke-width="0.8"/>
<circle cx="234.0" cy="888.7" r="4.1" fill="#00ff00" stroke="#111" stroke-width="0.8"/>
<circle cx="239.7" cy="891.4" r="4.1" fill="#00ff00" stroke="#111" stroke-width="0.8"/>
<circle cx="258.3" cy="898.6" r="4.1" fill="#00ff00" stroke="#111" stroke-width="0.8"/>
<rect x="59.6" y="68.6" width="8.0" height="8.0" fill="#00ff00" stroke="#111" stroke-width="0.8"/>
<rect x="63.6" y="82.8" width="8.0" height="8.0" fill="#00ff00" stroke="#111" stroke-width="0.8"/>
<rect x="414.7" y="187.3" width="8.0" height="8.0" fill="#00ff00" stroke="#111" stroke-width="0.8"/>
<rect x="64.5" y="456.3" width="8.0" height="8.0" fill="#00ff00" stroke="#111" stroke-width="0.8"/>
<rect x="60.4" y="467.5" width="8.0" height="8.0" fill="#00ff00" stroke="#111" stroke-width="0.8"/>
<rect x="60.4" y="474.8" width="8.0" height="8.0" fill="#00ff00" stroke="#111" stroke-width="0.8"/>
<rect x="414.1" y="492.2" width="8.0" height="8.0" fill="#00ff00" stroke="#111" stroke-width="0.8"/>
<rect x="410.5" y="523.3" width="8.0" height="8.0" fill="#00ff00" stroke="#111" stroke-width="0.8"/>
<rect x="410.4" y="510.5" width="8.0" height="8.0" fill="#00ff00" stroke="#111" stroke-width="0.8"/>
<rect x="60.0" y="737.2" width="8.0" height="8.0" fill="#00ff00" stroke="#111" stroke-width="0.8"/>
<rect x="60.0" y="749.5" width="8.0" height="8.0" fill="#00ff00" stroke="#111" stroke-width="0.8"/>
<rect x="60.0" y="774.2" width="8.0" height="8.0" fill="#00ff00" stroke="#111" stroke-width="0.8"/>
<rect x="63.4" y="832.6" width="8.0" height="8.0" fill="#00ff00" stroke="#111" stroke-width="0.8"/>
<polygon points="268.8,245.9 270.3,249.5 274.1,249.8 271.2,252.3 272.1,256.0 268.8,254.0 265.5,256.0 266.4,252.3 263.5,249.8 267.3,249.5" fill="#00ff00" stroke="#222" stroke-width="0.8"/>
<polygon points="273.2,242.7 274.7,246.3 278.5,246.6 275.6,249.1 276.5,252.8 273.2,250.8 269.9,252.8 270.8,249.1 267.9,246.6 271.7,246.3" fill="#00ff00" stroke="#222" stroke-width="0.8"/>
<polygon points="623.9,244.4 625.4,248.0 629.2,248.3 626.3,250.8 627.2,254.5 623.9,252.5 620.6,254.5 621.5,250.8 618.6,248.3 622.4,248.0" fill="#00ff00" stroke="#222" stroke-width="0.8"/>
<polygon points="617.3,105.4 618.8,109.0 622.6,109.3 619.7,111.8 620.6,115.5 617.3,113.5 614.0,115.5 614.9,111.8 612.0,109.3 615.8,109.0" fill="#00ff00" stroke="#222" stroke-width="0.8"/>
<polygon points="267.2,569.1 268.7,572.7 272.5,573.0 269.6,575.5 270.5,579.2 267.2,577.2 263.9,579.2 264.8,575.5 261.9,573.0 265.7,572.7" fill="#00ff00" stroke="#222" stroke-width="0.8"/>
<polygon points="270.9,573.4 272.4,577.0 276.2,577.3 273.3,579.8 274.2,583.5 270.9,581.5 267.6,583.5 268.5,579.8 265.6,577.3 269.4,577.0" fill="#00ff00" stroke="#222" stroke-width="0.8"/>
<polygon points="616.8,425.2 618.3,428.8 622.1,429.1 619.2,431.6 620.1,435.3 616.8,433.3 613.5,435.3 614.4,431.6 611.5,429.1 615.3,428.8" fill="#00ff00" stroke="#222" stroke-width="0.8"/>
<polygon points="623.5,428.1 625.0,431.7 628.8,432.0 625.9,434.5 626.8,438.2 623.5,436.2 620.2,438.2 621.1,434.5 618.2,432.0 622.0,431.7" fill="#00ff00" stroke="#222" stroke-width="0.8"/>
<polygon points="262.7,893.0 264.2,896.6 268.0,896.9 265.1,899.4 266.0,903.1 262.7,901.1 259.4,903.1 260.3,899.4 257.4,896.9 261.2,896.6" fill="#00ff00" stroke="#222" stroke-width="0.8"/>
<polygon points="264.4,895.9 265.9,899.5 269.7,899.8 266.8,902.3 267.7,906.0 264.4,904.0 261.1,906.0 262.0,902.3 259.1,899.8 262.9,899.5" fill="#00ff00" stroke="#222" stroke-width="0.8"/>
<polygon points="261.5,898.1 263.0,901.7 266.8,902.0 263.9,904.5 264.8,908.2 261.5,906.2 258.2,908.2 259.1,904.5 256.2,902.0 260.0,901.7" fill="#00ff00" stroke="#222" stroke-width="0.8"/>
<polygon points="272.4,901.8 273.9,905.4 277.7,905.7 274.8,908.2 275.7,911.9 272.4,909.9 269.1,911.9 270.0,908.2 267.1,905.7 270.9,905.4" fill="#00ff00" stroke="#222" stroke-width="0.8"/>
<circle cx="63.6" cy="82.0" r="4.1" fill="#ffff00" stroke="#111" stroke-width="0.8"/>
<circle cx="82.6" cy="85.4" r="4.1" fill="#ffff00" stroke="#111" stroke-width="0.8"/>
<circle cx="91.8" cy="86.1" r="4.1" fill="#ffff00" stroke="#111" stroke-width="0.8"/>
<circle cx="96.5" cy="98.5" r="4.1" fill="#ffff00" stroke="#111" stroke-width="0.8"/>
<circle cx="111.1" cy="89.3" r="4.1" fill="#ffff00" stroke="#111" stroke-width="0.8"/>
<circle cx="125.4" cy="91.5" r="4.1" fill="#ffff00" stroke="#111" stroke-width="0.8"/>
<circle cx="124.7" cy="103.9" r="4.1" fill="#ffff00" stroke="#111" stroke-width="0.8"/>
<circle cx="140.7" cy="105.1" r="4.1" fill="#ffff00" stroke="#111" stroke-width="0.8"/>
<circle cx="146.1" cy="106.8" r="4.1" fill="#ffff00" stroke="#111" stroke-width="0.8"/>
<circle cx="157.8" cy="116.3" r="4.1" fill="#ffff00" stroke="#111" stroke-width="0.8"/>
<circle cx="162.8" cy="114.9" r="4.1" fill="#ffff00" stroke="#111" stroke-width="0.8"/>
<circle cx="180.9" cy="84.9" r="4.1" fill="#ffff00" stroke="#111" stroke-width="0.8"/>
<circle cx="181.8" cy="91.2" r="4.1" fill="#ffff00" stroke="#111" stroke-width="0.8"/>
<circle cx="177.0" cy="129.2" r="4.1" fill="#ffff00" stroke="#111" stroke-width="0.8"/>
<circle cx="174.1" cy="149.2" r="4.1" fill="#ffff00" stroke="#111" stroke-width="0.8"/>
<circle cx="189.4" cy="147.7" r="4.1" fill="#ffff00" stroke="#111" stroke-width="0.8"/>
<circle cx="196.7" cy="156.0" r="4.1" fill="#ffff00" stroke="#111" stroke-width="0.8"/>
<circle cx="197.0" cy="172.3" r="4.1" fill="#ffff00" stroke="#111" stroke-width="0.8"/>
<circle cx="201.4" cy="171.9" r="4.1" fill="#ffff00" stroke="#111" stroke-width="0.8"/>
<circle cx="216.7" cy="188.4" r="4.1" fill="#ffff00" stroke="#111" stroke-width="0.8"/>
<circle cx="220.4" cy="188.4" r="4.1" fill="#ffff00" stroke="#111" stroke-width="0.8"/>
<circle cx="226.2" cy="187.7" r="4.1" fill="#ffff00" stroke="#111" stroke-width="0.8"/>
<circle cx="235.4" cy="198.3" r="4.1" fill="#ffff00" stroke="#111" stroke-width="0.8"/>
<circle cx="237.2" cy="210.6" r="4.1" fill="#ffff00" stroke="#111" stroke-width="0.8"/>
<circle cx="244.5" cy="220.5" r="4.1" fill="#ffff00" stroke="#111" stroke-width="0.8"/>
<circle cx="250.3" cy="219.8" r="4.1" fill="#ffff00" stroke="#111" stroke-width="0.8"/>
<circle cx="443.2" cy="114.0" r="4.1" fill="#ffff00" stroke="#111" stroke-width="0.8"/>
<circle cx="415.2" cy="184.1" r="4.1" fill="#ffff00" stroke="#111" stroke-width="0.8"/>
<circle cx="433.5" cy="188.0" r="4.1" fill="#ffff00" stroke="#111" stroke-width="0.8"/>
<circle cx="447.8" cy="201.3" r="4.1" fill="#ffff00" stroke="#111" stroke-width="0.8"/>
<circle cx="462.2" cy="180.4" r="4.1" fill="#ffff00" stroke="#111" stroke-width="0.8"/>
<circle cx="476.5" cy="188.0" r="4.1" fill="#ffff00" stroke="#111" stroke-width="0.8"/>
<circle cx="492.3" cy="201.3" r="4.1" fill="#ffff00" stroke="#111" stroke-width="0.8"/>
<circle cx="497.3" cy="187.0" r="4.1" fill="#ffff00" stroke="#111" stroke-width="0.8"/>
<circle cx="532.2" cy="162.2" r="4.1" fill="#ffff00" stroke="#111" stroke-width="0.8"/>
<circle cx="548.3" cy="160.7" r="4.1" fill="#ffff00" stroke="#111" stroke-width="0.8"/>
<circle cx="571.2" cy="162.6" r="4.1" fill="#ffff00" stroke="#111" stroke-width="0.8"/>
<circle cx="552.4" cy="176.4" r="4.1" fill="#ffff00" stroke="#111" stroke-width="0.8"/>
<circle cx="567.0" cy="178.2" r="4.1" fill="#ffff00" stroke="#111" stroke-width="0.8"/>
<circle cx="576.8" cy="175.8" r="4.1" fill="#ffff00" stroke="#111" stroke-width="0.8"/>
<circle cx="585.2" cy="184.1" r="4.1" fill="#ffff00" stroke="#111" stroke-width="0.8"/>
<circle cx="588.4" cy="185.1" r="4.1" fill="#ffff00" stroke="#111" stroke-width="0.8"/>
<circle cx="513.7" cy="199.4" r="4.1" fill="#ffff00" stroke="#111" stroke-width="0.8"/>
<circle cx="528.3" cy="198.7" r="4.1" fill="#ffff00" stroke="#111" stroke-width="0.8"/>
<circle cx="547.6" cy="219.1" r="4.1" fill="#ffff00" stroke="#111" stroke-width="0.8"/>
<circle cx="540.5" cy="238.4" r="4.1" fill="#ffff00" stroke="#111" stroke-width="0.8"/>
<circle cx="509.6" cy="250.5" r="4.1" fill="#ffff00" stroke="#111" stroke-width="0.8"/>
<circle cx="525.4" cy="123.8" r="4.1" fill="#ffff00" stroke="#111" stroke-width="0.8"/>
<circle cx="533.4" cy="131.5" r="4.1" fill="#ffff00" stroke="#111" stroke-width="0.8"/>
<circle cx="596.2" cy="110.5" r="4.1" fill="#ffff00" stroke="#111" stroke-width="0.8"/>
<circle cx="601.3" cy="247.1" r="4.1" fill="#ffff00" stroke="#111" stroke-width="0.8"/>
<circle cx="64.4" cy="391.2" r="4.1" fill="#ffff00" stroke="#111" stroke-width="0.8"/>
<circle cx="83.4" cy="401.1" r="4.1" fill="#ffff00" stroke="#111" stroke-width="0.8"/>
<circle cx="97.2" cy="404.6" r="4.1" fill="#ffff00" stroke="#111" stroke-width="0.8"/>
<circle cx="111.4" cy="397.3" r="4.1" fill="#ffff00" stroke="#111" stroke-width="0.8"/>
<circle cx="92.8" cy="433.1" r="4.1" fill="#ffff00" stroke="#111" stroke-width="0.8"/>
<circle cx="125.4" cy="442.3" r="4.1" fill="#ffff00" stroke="#111" stroke-width="0.8"/>
<circle cx="141.5" cy="452.5" r="4.1" fill="#ffff00" stroke="#111" stroke-width="0.8"/>
<circle cx="159.3" cy="462.0" r="4.1" fill="#ffff00" stroke="#111" stroke-width="0.8"/>
<circle cx="126.4" cy="467.8" r="4.1" fill="#ffff00" stroke="#111" stroke-width="0.8"/>
<circle cx="146.6" cy="482.5" r="4.1" fill="#ffff00" stroke="#111" stroke-width="0.8"/>
<circle cx="175.0" cy="472.7" r="4.1" fill="#ffff00" stroke="#111" stroke-width="0.8"/>
<circle cx="163.4" cy="510.7" r="4.1" fill="#ffff00" stroke="#111" stroke-width="0.8"/>
<circle cx="177.7" cy="516.8" r="4.1" fill="#ffff00" stroke="#111" stroke-width="0.8"/>
<circle cx="182.4" cy="519.4" r="4.1" fill="#ffff00" stroke="#111" stroke-width="0.8"/>
<circle cx="190.1" cy="513.3" r="4.1" fill="#ffff00" stroke="#111" stroke-width="0.8"/>
<circle cx="198.2" cy="508.5" r="4.1" fill="#ffff00" stroke="#111" stroke-width="0.8"/>
<circle cx="196.7" cy="522.0" r="4.1" fill="#ffff00" stroke="#111" stroke-width="0.8"/>
<circle cx="202.3" cy="526.0" r="4.1" fill="#ffff00" stroke="#111" stroke-width="0.8"/>
<circle cx="220.8" cy="513.9" r="4.1" fill="#ffff00" stroke="#111" stroke-width="0.8"/>
<circle cx="237.9" cy="512.8" r="4.1" fill="#ffff00" stroke="#111" stroke-width="0.8"/>
<circle cx="236.1" cy="516.5" r="4.1" fill="#ffff00" stroke="#111" stroke-width="0.8"/>
<circle cx="216.4" cy="521.6" r="4.1" fill="#ffff00" stroke="#111" stroke-width="0.8"/>
<circle cx="226.2" cy="523.5" r="4.1" fill="#ffff00" stroke="#111" stroke-width="0.8"/>
<circle cx="245.6" cy="532.3" r="4.1" fill="#ffff00" stroke="#111" stroke-width="0.8"/>
<circle cx="250.5" cy="525.0" r="4.1" fill="#ffff00" stroke="#111" stroke-width="0.8"/>
<circle cx="475.8" cy="472.4" r="4.1" fill="#ffff00" stroke="#111" stroke-width="0.8"/>
<circle cx="476.2" cy="477.2" r="4.1" fill="#ffff00" stroke="#111" stroke-width="0.8"/>
<circle cx="491.4" cy="479.1" r="4.1" fill="#ffff00" stroke="#111" stroke-width="0.8"/>
<circle cx="496.7" cy="482.3" r="4.1" fill="#ffff00" stroke="#111" stroke-width="0.8"/>
<circle cx="447.0" cy="483.1" r="4.1" fill="#ffff00" stroke="#111" stroke-width="0.8"/>
<circle cx="442.7" cy="492.8" r="4.1" fill="#ffff00" stroke="#111" stroke-width="0.8"/>
<circle cx="461.2" cy="491.8" r="4.1" fill="#ffff00" stroke="#111" stroke-width="0.8"/>
<circle cx="433.0" cy="499.9" r="4.1" fill="#ffff00" stroke="#111" stroke-width="0.8"/>
<circle cx="585.8" cy="454.7" r="4.1" fill="#ffff00" stroke="#111" stroke-width="0.8"/>
<circle cx="524.9" cy="462.0" r="4.1" fill="#ffff00" stroke="#111" stroke-width="0.8"/>
<circle cx="527.8" cy="467.4" r="4.1" fill="#ffff00" stroke="#111" stroke-width="0.8"/>
<circle cx="512.8" cy="470.4" r="4.1" fill="#ffff00" stroke="#111" stroke-width="0.8"/>
<circle cx="507.8" cy="474.5" r="4.1" fill="#ffff00" stroke="#111" stroke-width="0.8"/>
<circle cx="547.6" cy="467.4" r="4.1" fill="#ffff00" stroke="#111" stroke-width="0.8"/>
<circle cx="540.0" cy="472.7" r="4.1" fill="#ffff00" stroke="#111" stroke-width="0.8"/>
<circle cx="551.9" cy="473.7" r="4.1" fill="#ffff00" stroke="#111" stroke-width="0.8"/>
<circle cx="570.2" cy="458.4" r="4.1" fill="#ffff00" stroke="#111" stroke-width="0.8"/>
<circle cx="576.0" cy="457.7" r="4.1" fill="#ffff00" stroke="#111" stroke-width="0.8"/>
<circle cx="587.7" cy="469.3" r="4.1" fill="#ffff00" stroke="#111" stroke-width="0.8"/>
<circle cx="595.5" cy="462.8" r="4.1" fill="#ffff00" stroke="#111" stroke-width="0.8"/>
<circle cx="600.2" cy="459.3" r="4.1" fill="#ffff00" stroke="#111" stroke-width="0.8"/>
<circle cx="566.2" cy="474.7" r="4.1" fill="#ffff00" stroke="#111" stroke-width="0.8"/>
<circle cx="531.5" cy="489.8" r="4.1" fill="#ffff00" stroke="#111" stroke-width="0.8"/>
<circle cx="600.4" cy="457.8" r="4.1" fill="#ffff00" stroke="#111" stroke-width="0.8"/>
<circle cx="64.0" cy="788.0" r="4.1" fill="#ffff00" stroke="#111" stroke-width="0.8"/>
<circle cx="82.4" cy="800.6" r="4.1" fill="#ffff00" stroke="#111" stroke-width="0.8"/>
<circle cx="92.2" cy="813.3" r="4.1" fill="#ffff00" stroke="#111" stroke-width="0.8"/>
<circle cx="96.6" cy="811.4" r="4.1" fill="#ffff00" stroke="#111" stroke-width="0.8"/>
<circle cx="110.8" cy="823.9" r="4.1" fill="#ffff00" stroke="#111" stroke-width="0.8"/>
<circle cx="125.5" cy="827.2" r="4.1" fill="#ffff00" stroke="#111" stroke-width="0.8"/>
<circle cx="125.1" cy="830.8" r="4.1" fill="#ffff00" stroke="#111" stroke-width="0.8"/>
<circle cx="146.2" cy="834.7" r="4.1" fill="#ffff00" stroke="#111" stroke-width="0.8"/>
<circle cx="140.8" cy="840.3" r="4.1" fill="#ffff00" stroke="#111" stroke-width="0.8"/>
<circle cx="182.2" cy="822.5" r="4.1" fill="#ffff00" stroke="#111" stroke-width="0.8"/>
<circle cx="158.4" cy="838.3" r="4.1" fill="#ffff00" stroke="#111" stroke-width="0.8"/>
<circle cx="162.6" cy="842.4" r="4.1" fill="#ffff00" stroke="#111" stroke-width="0.8"/>
<circle cx="177.1" cy="848.8" r="4.1" fill="#ffff00" stroke="#111" stroke-width="0.8"/>
<circle cx="189.1" cy="852.9" r="4.1" fill="#ffff00" stroke="#111" stroke-width="0.8"/>
<circle cx="196.8" cy="857.6" r="4.1" fill="#ffff00" stroke="#111" stroke-width="0.8"/>
<circle cx="174.2" cy="863.3" r="4.1" fill="#ffff00" stroke="#111" stroke-width="0.8"/>
<circle cx="196.8" cy="864.3" r="4.1" fill="#ffff00" stroke="#111" stroke-width="0.8"/>
<circle cx="201.6" cy="864.3" r="4.1" fill="#ffff00" stroke="#111" stroke-width="0.8"/>
<circle cx="215.8" cy="877.4" r="4.1" fill="#ffff00" stroke="#111" stroke-width="0.8"/>
<circle cx="219.7" cy="875.5" r="4.1" fill="#ffff00" stroke="#111" stroke-width="0.8"/>
<circle cx="225.7" cy="873.8" r="4.1" fill="#ffff00" stroke="#111" stroke-width="0.8"/>
<circle cx="235.3" cy="877.0" r="4.1" fill="#ffff00" stroke="#111" stroke-width="0.8"/>
<circle cx="237.4" cy="883.0" r="4.1" fill="#ffff00" stroke="#111" stroke-width="0.8"/>
<circle cx="250.5" cy="887.2" r="4.1" fill="#ffff00" stroke="#111" stroke-width="0.8"/>
<circle cx="244.0" cy="890.6" r="4.1" fill="#ffff00" stroke="#111" stroke-width="0.8"/>
<rect x="59.6" y="66.4" width="8.0" height="8.0" fill="#ffff00" stroke="#111" stroke-width="0.8"/>
<rect x="59.6" y="64.4" width="8.0" height="8.0" fill="#ffff00" stroke="#111" stroke-width="0.8"/>
<rect x="411.2" y="201.8" width="8.0" height="8.0" fill="#ffff00" stroke="#111" stroke-width="0.8"/>
<rect x="411.2" y="196.2" width="8.0" height="8.0" fill="#ffff00" stroke="#111" stroke-width="0.8"/>
<rect x="411.2" y="192.4" width="8.0" height="8.0" fill="#ffff00" stroke="#111" stroke-width="0.8"/>
<rect x="411.2" y="184.2" width="8.0" height="8.0" fill="#ffff00" stroke="#111" stroke-width="0.8"/>
<rect x="60.0" y="364.5" width="8.0" height="8.0" fill="#ffff00" stroke="#111" stroke-width="0.8"/>
<rect x="60.0" y="362.4" width="8.0" height="8.0" fill="#ffff00" stroke="#111" stroke-width="0.8"/>
<rect x="60.0" y="357.2" width="8.0" height="8.0" fill="#ffff00" stroke="#111" stroke-width="0.8"/>
<rect x="410.4" y="507.5" width="8.0" height="8.0" fill="#ffff00" stroke="#111" stroke-width="0.8"/>
<rect x="410.4" y="499.6" width="8.0" height="8.0" fill="#ffff00" stroke="#111" stroke-width="0.8"/>
<rect x="410.4" y="503.5" width="8.0" height="8.0" fill="#ffff00" stroke="#111" stroke-width="0.8"/>
<rect x="60.0" y="690.1" width="8.0" height="8.0" fill="#ffff00" stroke="#111" stroke-width="0.8"/>
<rect x="60.0" y="696.7" width="8.0" height="8.0" fill="#ffff00" stroke="#111" stroke-width="0.8"/>
<polygon points="264.4,245.9 265.9,249.5 269.7,249.8 266.8,252.3 267.7,256.0 264.4,254.0 261.1,256.0 262.0,252.3 259.1,249.8 262.9,249.5" fill="#ffff00" stroke="#222" stroke-width="0.8"/>
<polygon points="271.7,248.1 273.2,251.7 277.0,252.0 274.1,254.5 275.0,258.2 271.7,256.2 268.4,258.2 269.3,254.5 266.4,252.0 270.2,251.7" fill="#ffff00" stroke="#222" stroke-width="0.8"/>
<polygon points="275.4,250.0 276.9,253.6 280.7,253.9 277.8,256.4 278.7,260.1 275.4,258.1 272.1,260.1 273.0,256.4 270.1,253.9 273.9,253.6" fill="#ffff00" stroke="#222" stroke-width="0.8"/>
<polygon points="615.1,109.0 616.6,112.6 620.4,112.9 617.5,115.4 618.4,119.1 615.1,117.1 611.8,119.1 612.7,115.4 609.8,112.9 613.6,112.6" fill="#ffff00" stroke="#222" stroke-width="0.8"/>
<polygon points="623.2,106.1 624.7,109.7 628.5,110.0 625.6,112.5 626.5,116.2 623.2,114.2 619.9,116.2 620.8,112.5 617.9,110.0 621.7,109.7" fill="#ffff00" stroke="#222" stroke-width="0.8"/>
<polygon points="627.8,107.5 629.3,111.1 633.1,111.4 630.2,113.9 631.1,117.6 627.8,115.6 624.5,117.6 625.4,113.9 622.5,111.4 626.3,111.1" fill="#ffff00" stroke="#222" stroke-width="0.8"/>
<polygon points="265.0,572.7 266.5,576.3 270.3,576.6 267.4,579.1 268.3,582.8 265.0,580.8 261.7,582.8 262.6,579.1 259.7,576.6 263.5,576.3" fill="#ffff00" stroke="#222" stroke-width="0.8"/>
<polygon points="273.1,572.0 274.6,575.6 278.4,575.9 275.5,578.4 276.4,582.1 273.1,580.1 269.8,582.1 270.7,578.4 267.8,575.9 271.6,575.6" fill="#ffff00" stroke="#222" stroke-width="0.8"/>
<polygon points="276.0,575.6 277.5,579.2 281.3,579.5 278.4,582.0 279.3,585.7 276.0,583.7 272.7,585.7 273.6,582.0 270.7,579.5 274.5,579.2" fill="#ffff00" stroke="#222" stroke-width="0.8"/>
<polygon points="614.7,407.0 616.2,410.6 620.0,410.9 617.1,413.4 618.0,417.1 614.7,415.1 611.4,417.1 612.3,413.4 609.4,410.9 613.2,410.6" fill="#ffff00" stroke="#222" stroke-width="0.8"/>
<polygon points="626.0,417.9 627.5,421.5 631.3,421.8 628.4,424.3 629.3,428.0 626.0,426.0 622.7,428.0 623.6,424.3 620.7,421.8 624.5,421.5" fill="#ffff00" stroke="#222" stroke-width="0.8"/>
<polygon points="622.3,421.6 623.8,425.2 627.6,425.5 624.7,428.0 625.6,431.7 622.3,429.7 619.0,431.7 619.9,428.0 617.0,425.5 620.8,425.2" fill="#ffff00" stroke="#222" stroke-width="0.8"/>
<polygon points="264.1,887.5 265.6,891.1 269.4,891.4 266.5,893.9 267.4,897.6 264.1,895.6 260.8,897.6 261.7,893.9 258.8,891.4 262.6,891.1" fill="#ffff00" stroke="#222" stroke-width="0.8"/>
<polygon points="271.7,896.7 273.2,900.3 277.0,900.6 274.1,903.1 275.0,906.8 271.7,904.8 268.4,906.8 269.3,903.1 266.4,900.6 270.2,900.3" fill="#ffff00" stroke="#222" stroke-width="0.8"/>
<circle cx="279.7" cy="254.5" r="4.1" fill="#0000ff" stroke="#111" stroke-width="0.8"/>
<circle cx="282.7" cy="255.9" r="4.1" fill="#0000ff" stroke="#111" stroke-width="0.8"/>
<circle cx="631.2" cy="225.5" r="4.1" fill="#0000ff" stroke="#111" stroke-width="0.8"/>
<circle cx="632.2" cy="230.5" r="4.1" fill="#0000ff" stroke="#111" stroke-width="0.8"/>
<circle cx="633.4" cy="228.4" r="4.1" fill="#0000ff" stroke="#111" stroke-width="0.8"/>
<circle cx="634.1" cy="241.1" r="4.1" fill="#0000ff" stroke="#111" stroke-width="0.8"/>
<circle cx="281.1" cy="576.1" r="4.1" fill="#0000ff" stroke="#111" stroke-width="0.8"/>
<circle cx="283.3" cy="579.8" r="4.1" fill="#0000ff" stroke="#111" stroke-width="0.8"/>
<circle cx="631.4" cy="414.0" r="4.1" fill="#0000ff" stroke="#111" stroke-width="0.8"/>
<circle cx="632.8" cy="421.6" r="4.1" fill="#0000ff" stroke="#111" stroke-width="0.8"/>
<circle cx="630.4" cy="430.8" r="4.1" fill="#0000ff" stroke="#111" stroke-width="0.8"/>
<circle cx="632.6" cy="435.2" r="4.1" fill="#0000ff" stroke="#111" stroke-width="0.8"/>
<circle cx="281.2" cy="906.6" r="4.1" fill="#0000ff" stroke="#111" stroke-width="0.8"/>
<circle cx="283.1" cy="905.9" r="4.1" fill="#0000ff" stroke="#111" stroke-width="0.8"/>
<text x="68.5" y="37.6" font-size="16.3" text-anchor="start" >(a)</text>
<text x="420.3" y="37.8" font-size="16.3" text-anchor="start" >(b)</text>
<text x="294.8" y="365.9" font-size="16.3" text-anchor="start" >(c)</text>
<text x="420.0" y="366.9" font-size="16.3" text-anchor="start" >(d)</text>
<text x="293.0" y="689.2" font-size="16.3" text-anchor="start" >(e)</text>
<line x1="63.0" y1="52.5" x2="296.3" y2="256.3" stroke="#333" stroke-width="1" stroke-dasharray="7,4"/>
<line x1="63.0" y1="58.5" x2="287.1" y2="256.3" stroke="#333" stroke-width="1" stroke-dasharray="7,4"/>
<line x1="63.0" y1="70.5" x2="285.2" y2="256.3" stroke="#333" stroke-width="1" stroke-dasharray="7,4"/>
<text x="111.4" y="45.6" font-size="10.3" text-anchor="start" >y = -9.4x + 340</text>
<text x="111.4" y="58.4" font-size="10.3">r<tspan font-size="6.4" dy="-5">2</tspan><tspan dy="5"> = 0.90, </tspan><tspan font-style="italic">p</tspan>&lt;0.0001</text>
<line x1="108.6" y1="50.2" x2="84.0" y2="68.5" stroke="#333" stroke-width="0.9"/>
<polyline points="88.2,62.3 84.0,68.5 91.1,66.2" fill="none" stroke="#333" stroke-width="0.9"/>
<text x="194.2" y="105.3" font-size="10.3" text-anchor="start" >y = -9.5x + 330</text>
<text x="194.2" y="118.1" font-size="10.3">r<tspan font-size="6.4" dy="-5">2</tspan><tspan dy="5"> = 0.95, </tspan><tspan font-style="italic">p</tspan>&lt;0.0001</text>
<line x1="193.3" y1="108.5" x2="159.9" y2="137.2" stroke="#333" stroke-width="0.9"/>
<polyline points="163.7,130.7 159.9,137.2 166.9,134.4" fill="none" stroke="#333" stroke-width="0.9"/>
<text x="88.6" y="194.1" font-size="10.3" text-anchor="start" >y = -9.0x + 310</text>
<text x="88.6" y="206.9" font-size="10.3">r<tspan font-size="6.4" dy="-5">2</tspan><tspan dy="5"> = 0.90, </tspan><tspan font-style="italic">p</tspan>&lt;0.0001</text>
<line x1="132.6" y1="184.4" x2="160.6" y2="152.8" stroke="#333" stroke-width="0.9"/>
<polyline points="157.7,159.7 160.6,152.8 154.1,156.5" fill="none" stroke="#333" stroke-width="0.9"/>
<line x1="63.5" y1="384.0" x2="268.7" y2="569.0" stroke="#333" stroke-width="1" stroke-dasharray="7,4"/>
<line x1="63.5" y1="466.7" x2="267.4" y2="572.9" stroke="#333" stroke-width="1" stroke-dasharray="7,4"/>
<line x1="63.5" y1="479.9" x2="321.6" y2="576.5" stroke="#333" stroke-width="1" stroke-dasharray="7,4"/>
<text x="147.9" y="396.0" font-size="10.3" text-anchor="start" >y = -9.7x + 331</text>
<text x="147.9" y="408.8" font-size="10.3">r<tspan font-size="6.4" dy="-5">2</tspan><tspan dy="5"> = 0.93, </tspan><tspan font-style="italic">p</tspan>&lt;0.0001</text>
<line x1="143.8" y1="400.9" x2="111.8" y2="426.3" stroke="#333" stroke-width="0.9"/>
<polyline points="115.8,420.0 111.8,426.3 118.9,423.8" fill="none" stroke="#333" stroke-width="0.9"/>
<text x="191.6" y="449.1" font-size="10.3" text-anchor="start" >y = -5.6x + 193</text>
<text x="191.6" y="461.9" font-size="10.3">r<tspan font-size="6.4" dy="-5">2</tspan><tspan dy="5"> = 0.93, </tspan><tspan font-style="italic">p</tspan>&lt;0.0001</text>
<line x1="190.0" y1="451.2" x2="116.4" y2="492.0" stroke="#333" stroke-width="0.9"/>
<polyline points="121.4,486.4 116.4,492.0 123.8,490.7" fill="none" stroke="#333" stroke-width="0.9"/>
<text x="70.2" y="535.8" font-size="10.3" text-anchor="start" >y = -4.4x + 171</text>
<text x="70.2" y="548.6" font-size="10.3">r<tspan font-size="6.4" dy="-5">2</tspan><tspan dy="5"> = 0.87, </tspan><tspan font-style="italic">p</tspan>&lt;0.0001</text>
<line x1="82.5" y1="528.0" x2="90.7" y2="494.5" stroke="#333" stroke-width="0.9"/>
<polyline points="91.4,502.0 90.7,494.5 86.7,500.8" fill="none" stroke="#333" stroke-width="0.9"/>
<line x1="413.3" y1="477.8" x2="671.6" y2="407.8" stroke="#333" stroke-width="1" stroke-dasharray="7,4"/>
<line x1="413.3" y1="501.8" x2="671.6" y2="401.1" stroke="#333" stroke-width="1" stroke-dasharray="7,4"/>
<line x1="413.3" y1="509.0" x2="671.6" y2="420.7" stroke="#333" stroke-width="1" stroke-dasharray="7,4"/>
<text x="463.2" y="387.0" font-size="10.3" text-anchor="start" >y = 0.73x + 44</text>
<text x="463.2" y="399.8" font-size="10.3">r<tspan font-size="6.4" dy="-5">2</tspan><tspan dy="5"> = 0.65, </tspan><tspan font-style="italic">p</tspan>&lt;0.0001</text>
<line x1="476.1" y1="400.0" x2="470.7" y2="465.2" stroke="#333" stroke-width="0.9"/>
<polyline points="468.9,457.9 470.7,465.2 473.7,458.3" fill="none" stroke="#333" stroke-width="0.9"/>
<text x="461.2" y="533.8" font-size="10.3" text-anchor="start" >y = 1.1x + 34</text>
<text x="461.2" y="546.6" font-size="10.3">r<tspan font-size="6.4" dy="-5">2</tspan><tspan dy="5"> = 0.66, </tspan><tspan font-style="italic">p</tspan>&lt;0.0001</text>
<line x1="492.6" y1="524.9" x2="458.1" y2="485.2" stroke="#333" stroke-width="0.9"/>
<polyline points="464.6,489.0 458.1,485.2 460.9,492.1" fill="none" stroke="#333" stroke-width="0.9"/>
<text x="570.6" y="509.7" font-size="10.3" text-anchor="start" >y = 0.92x + 31</text>
<text x="570.6" y="522.5" font-size="10.3">r<tspan font-size="6.4" dy="-5">2</tspan><tspan dy="5"> = 0.83, </tspan><tspan font-style="italic">p</tspan>&lt;0.0001</text>
<line x1="609.3" y1="498.5" x2="609.3" y2="444.4" stroke="#333" stroke-width="0.9"/>
<polyline points="611.7,451.5 609.3,444.4 606.9,451.5" fill="none" stroke="#333" stroke-width="0.9"/>
<line x1="63.0" y1="755.8" x2="268.3" y2="908.6" stroke="#333" stroke-width="1" stroke-dasharray="7,4"/>
<line x1="63.0" y1="812.3" x2="270.1" y2="908.6" stroke="#333" stroke-width="1" stroke-dasharray="7,4"/>
<line x1="63.0" y1="867.5" x2="284.0" y2="908.6" stroke="#333" stroke-width="1" stroke-dasharray="7,4"/>
<text x="89.5" y="732.1" font-size="10.3" text-anchor="start" >y = -16x + 509</text>
<text x="89.5" y="744.9" font-size="10.3">r<tspan font-size="6.4" dy="-5">2</tspan><tspan dy="5"> = 0.82, </tspan><tspan font-style="italic">p</tspan>&lt;0.0001</text>
<line x1="105.5" y1="746.5" x2="81.9" y2="769.1" stroke="#333" stroke-width="0.9"/>
<polyline points="85.3,762.4 81.9,769.1 88.7,765.9" fill="none" stroke="#333" stroke-width="0.9"/>
<text x="143.0" y="778.9" font-size="10.3" text-anchor="start" >y = -10x + 321</text>
<text x="143.0" y="791.7" font-size="10.3">r<tspan font-size="6.4" dy="-5">2</tspan><tspan dy="5"> = 0.70, </tspan><tspan font-style="italic">p</tspan>&lt;0.0001</text>
<line x1="140.5" y1="784.0" x2="91.8" y2="826.2" stroke="#333" stroke-width="0.9"/>
<polyline points="95.6,819.7 91.8,826.2 98.8,823.4" fill="none" stroke="#333" stroke-width="0.9"/>
<text x="199.5" y="821.0" font-size="10.3" text-anchor="start" >y = -4x + 137</text>
<text x="199.5" y="833.8" font-size="10.3">r<tspan font-size="6.4" dy="-5">2</tspan><tspan dy="5"> = 0.73, </tspan><tspan font-style="italic">p</tspan>&lt;0.0001</text>
<line x1="197.1" y1="833.1" x2="133.4" y2="880.4" stroke="#333" stroke-width="0.9"/>
<polyline points="137.6,874.2 133.4,880.4 140.5,878.1" fill="none" stroke="#333" stroke-width="0.9"/>
<rect x="357.5" y="759.5" width="125" height="150.5" fill="#fff" stroke="#333" stroke-width="1"/>
<circle cx="374.7" cy="772.3" r="4.6" fill="#ff0000" stroke="#111" stroke-width="0.8"/>
<text x="391.0" y="775.6" font-size="9.7" fill="#333">Oct. 04. 2018 (GW)</text>
<rect x="370.5" y="781.3" width="8.4" height="8.4" fill="#ff0000" stroke="#111" stroke-width="0.8"/>
<text x="391.0" y="788.8" font-size="9.7" fill="#333">Oct. 04. 2018 (FW)</text>
<polygon points="374.7,792.6 376.3,796.4 380.4,796.7 377.3,799.4 378.2,803.5 374.7,801.3 371.2,803.5 372.1,799.4 369.0,796.7 373.1,796.4" fill="#ff0000" stroke="#222" stroke-width="0.8"/>
<text x="391.0" y="801.9" font-size="9.7" fill="#333">Oct. 04. 2018 (SW)</text>
<circle cx="374.7" cy="813.9" r="4.6" fill="#00ff00" stroke="#111" stroke-width="0.8"/>
<text x="391.0" y="817.2" font-size="9.7" fill="#333">Oct. 07. 2018 (GW)</text>
<rect x="370.5" y="822.9" width="8.4" height="8.4" fill="#00ff00" stroke="#111" stroke-width="0.8"/>
<text x="391.0" y="830.4" font-size="9.7" fill="#333">Oct. 07. 2018 (FW)</text>
<polygon points="374.7,834.2 376.3,838.0 380.4,838.3 377.3,841.0 378.2,845.1 374.7,842.9 371.2,845.1 372.1,841.0 369.0,838.3 373.1,838.0" fill="#00ff00" stroke="#222" stroke-width="0.8"/>
<text x="391.0" y="843.5" font-size="9.7" fill="#333">Oct. 07. 2018 (SW)</text>
<circle cx="374.7" cy="855.5" r="4.6" fill="#ffff00" stroke="#111" stroke-width="0.8"/>
<text x="391.0" y="858.8" font-size="9.7" fill="#333">Oct. 10. 2018 (GW)</text>
<rect x="370.5" y="864.5" width="8.4" height="8.4" fill="#ffff00" stroke="#111" stroke-width="0.8"/>
<text x="391.0" y="872.0" font-size="9.7" fill="#333">Oct. 10. 2018 (FW)</text>
<polygon points="374.7,875.8 376.3,879.6 380.4,879.9 377.3,882.6 378.2,886.7 374.7,884.5 371.2,886.7 372.1,882.6 369.0,879.9 373.1,879.6" fill="#ffff00" stroke="#222" stroke-width="0.8"/>
<text x="391.0" y="885.1" font-size="9.7" fill="#333">Oct. 10. 2018 (SW)</text>
<circle cx="374.7" cy="896.6" r="4.6" fill="#0000ff" stroke="#111" stroke-width="0.8"/>
<text x="391.0" y="899.9" font-size="9.7" fill="#333">Oct. 11. 2018 (SW)</text>
</svg></body></html>
